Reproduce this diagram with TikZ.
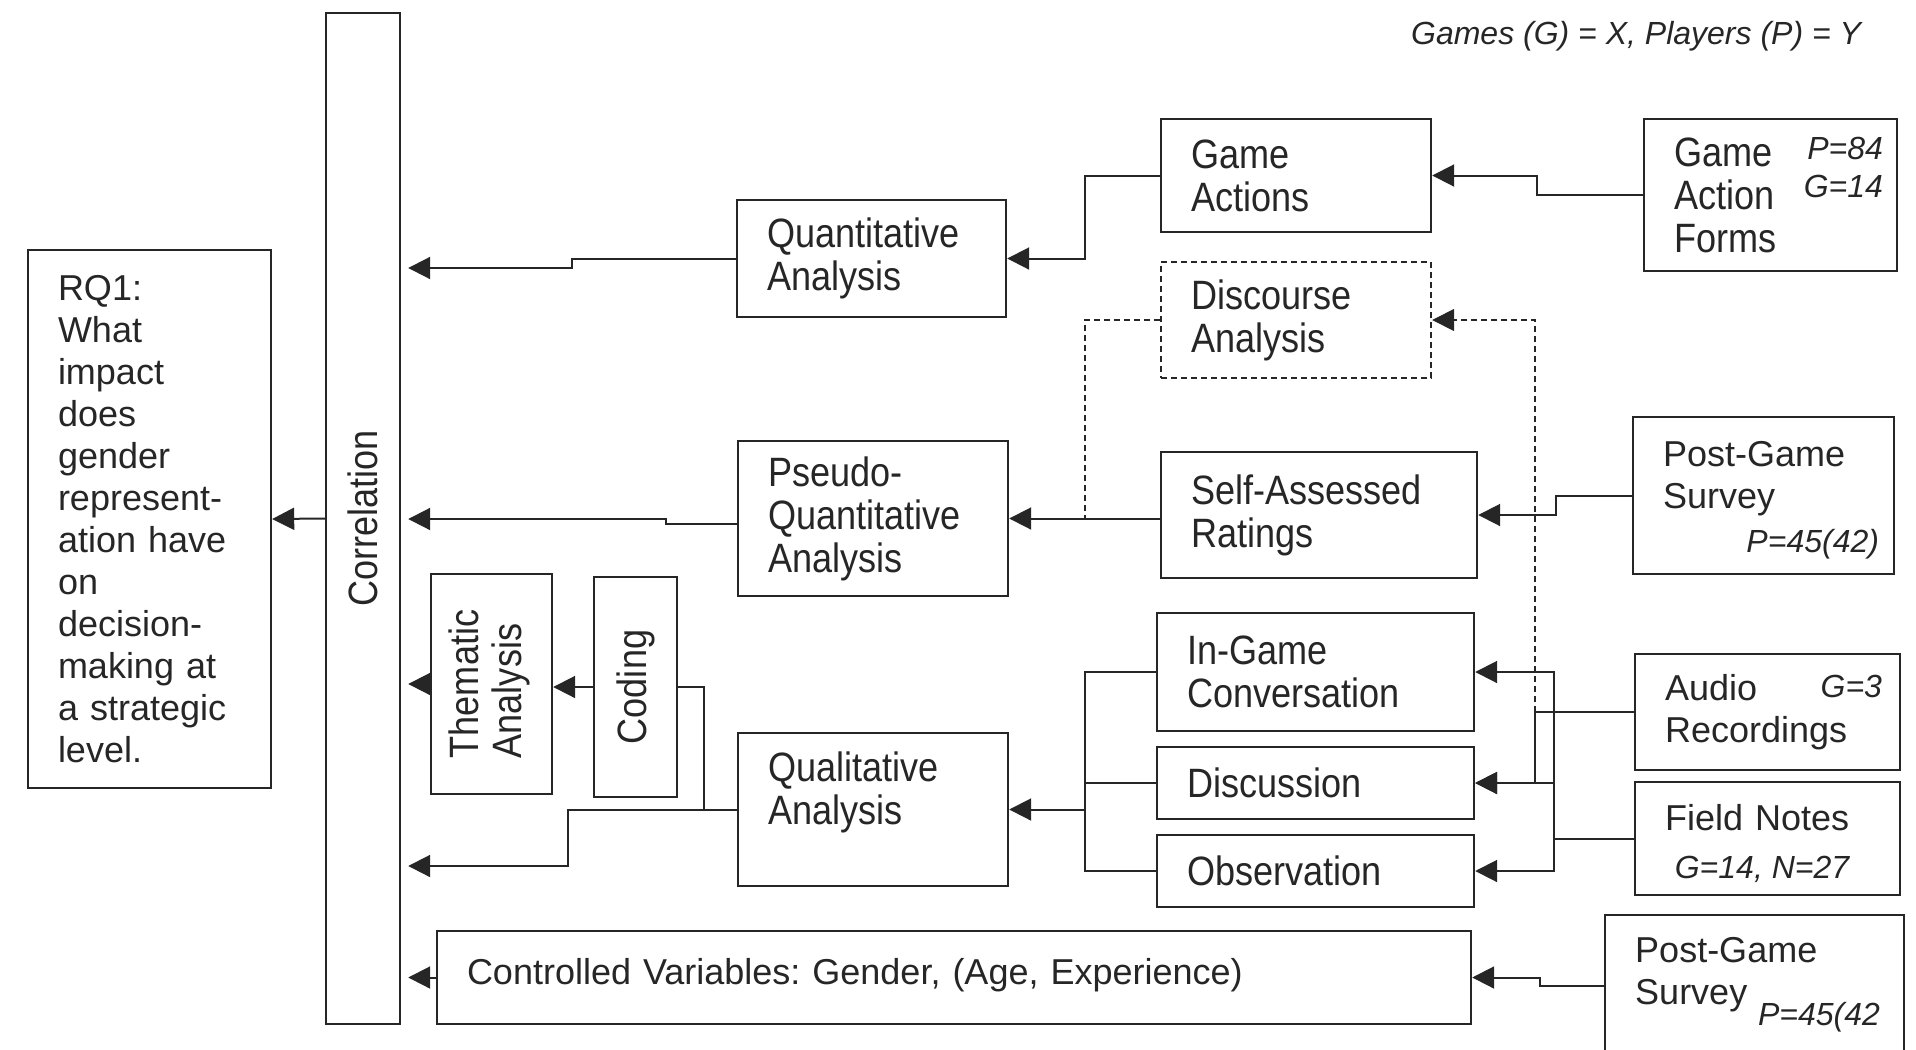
\documentclass[tikz,border=0pt]{standalone}
\usepackage{fontspec}
\setmainfont{Liberation Sans}
\newfontfamily\tallfont[FakeStretch=0.88]{Liberation Sans}
\usepackage{graphicx}
\usetikzlibrary{arrows.meta}

\newcommand\plainsize{\fontsize{18}{21}\selectfont}
\newcommand\tallsize{\tallfont\fontsize{20.5}{21.5}\selectfont}
\newcommand\notesize{\fontsize{16}{19}\selectfont\itshape}
\frenchspacing

\begin{document}
\begin{tikzpicture}[x=0.5pt,y=-0.5pt,color=black!85,line width=1pt,
    >={Triangle[length=11pt,width=11pt]},
    box/.style={draw,rectangle,line width=1.2pt,inner xsep=15pt,inner ysep=0pt,align=left,font=\tallsize},
    plainbox/.style={box,font=\plainsize},
    vbox/.style={draw,rectangle,line width=1.2pt,inner sep=0pt,font=\tallsize},
    lbl/.style={inner sep=0pt,font=\notesize},
    tocorr/.style={->,shorten >=3.5pt},
    dashline/.style={dash pattern=on 3pt off 2pt,line width=0.8pt}]
  \useasboundingbox (0,0) rectangle (1916,1049);
  \clip (0,0) rectangle (1916,1049);
  % left side
  \node[plainbox,text width=91.5pt,minimum height=269pt] (rq) at (149.5,519) {RQ1:\\What\\impact\\does\\gender\\represent-\\ation have\\on\\decision-\\making at\\a strategic\\level.};
  \node[vbox,minimum width=37pt,minimum height=505.5pt] (corr) at (363,518.5) {\rotatebox{90}{Correlation}};
  \node[vbox,minimum width=60.5pt,minimum height=110pt] (them) at (491.5,684) {\rotatebox{90}{\begin{tabular}{@{}l@{}}Thematic\\Analysis\end{tabular}}};
  \node[vbox,minimum width=41.5pt,minimum height=110pt] (cod) at (635.5,687) {\rotatebox{90}{Coding}};
  % analysis boxes
  \node[box,text width=104.5pt,minimum height=58.5pt] (quant) at (871.5,258.5) {Quantitative\\Analysis};
  \node[box,text width=105pt,minimum height=77.5pt] (pseudo) at (873,518.5) {Pseudo-\\Quantitative\\Analysis};
  \node[box,text width=105pt,minimum height=76.5pt] (qual) at (873,809.5) {Qualitative\\Analysis\\\mbox{}};
  \node[plainbox,text width=487pt,minimum height=46.5pt] (ctrl) at (954,977.5) {\raisebox{6pt}{Controlled Variables: Gender, (Age, Experience)}};
  % data boxes
  \node[box,text width=105pt,minimum height=56.5pt] (gact) at (1296,175.5) {Game\\Actions};
  \node[box,dash pattern=on 3pt off 2pt,text width=105pt,minimum height=58pt] (disc) at (1296,320) {Discourse\\Analysis};
  \node[box,text width=128pt,minimum height=63pt] (self) at (1319,515) {Self-Assessed\\Ratings};
  \node[box,text width=128.5pt,minimum height=59pt] (igc) at (1315.5,672) {In-Game\\Conversation};
  \node[box,text width=128.5pt,minimum height=36pt] (dis) at (1315.5,783) {Discussion};
  \node[box,text width=128.5pt,minimum height=36pt] (obs) at (1315.5,871) {Observation};
  % sources
  \node[box,text width=96.5pt,minimum height=76pt] (gaf) at (1770.5,195) {Game\\Action\\Forms};
  \node[lbl,align=right,anchor=east] (gafn) at (1884,167) {P=84\\G=14};
  \node[plainbox,text width=100.5pt,minimum height=78.5pt] (pgs1) at (1763.5,495.5) {Post-Game\\Survey\\\mbox{}};
  \node[lbl,anchor=east] (pgs1n) at (1880,544) {P=45(42)};
  \node[plainbox,text width=102.5pt,minimum height=58pt] (aud) at (1767.5,712) {Audio\\Recordings};
  \node[lbl,anchor=east] (audn) at (1883,686) {G=3};
  \node[plainbox,text width=102.5pt,minimum height=56.5pt] (fld) at (1767.5,838.5) {Field Notes\\\mbox{}};
  \node[lbl] (fldn) at (1762,869) {G=14, N=27};
  \node[plainbox,inner ysep=11pt,text width=119.5pt,anchor=north west] (pgs2) at (1604,914) {Post-Game\\Survey\\\mbox{}\\\mbox{}};
  \node[lbl,anchor=west] (pgs2n) at (1757,1017) {P=45(42};
  \node[lbl,anchor=east] (key) at (1862,36) {Games (G) = X, Players (P) = Y};
  % into correlation
  \draw[->] (corr.west) -- (rq.east);
  \draw[tocorr] (quant.west) -| (572,268) -- (corr.east |- 0,268);
  \draw[tocorr] ([yshift=-2.5pt]pseudo.west) -| (666,519) -- (corr.east |- 0,519);
  \draw[tocorr] (them.west) -- (corr.east |- them.west);
  \draw[tocorr] (qual.west) -| (568,866) -- (corr.east |- 0,866);
  \draw[tocorr] (ctrl.west) -- (corr.east |- ctrl.west);
  \draw (qual.west -| 704,0) |- (cod.east);
  \draw[->] (cod.west) -- (cod.west -| them.east);
  % into analysis
  \draw[->] (gact.west) -- (gact.west -| 1085,0) |- (quant.east);
  \draw[->] (self.west |- pseudo.east) -- (pseudo.east);
  \draw[dashline] (disc.west) -- (disc.west -| 1085,0) |- (pseudo.east);
  \draw (igc.west) -- (igc.west -| 1085,0) |- (obs.west);
  \draw (dis.west) -- (dis.west -| 1085,0);
  \draw[->] (qual.east -| 1085,0) -- (qual.east);
  % from sources
  \draw[->] (gaf.west) -- (gaf.west -| 1537,0) |- (gact.east);
  \draw[->] (pgs1.west) -- (pgs1.west -| 1556,0) |- (self.east);
  \coordinate (aj) at (aud.west -| 1535,0);
  \draw (aud.west) -- (aj);
  \draw[->] (aj) |- (dis.east);
  \draw[->,dashline] (aj) |- (disc.east);
  \coordinate (fj) at (fld.west -| 1554,0);
  \draw (fld.west) -- (fj);
  \draw[->] (fj) |- (igc.east);
  \draw[->] (fj) |- (obs.east);
  \draw[->] (fj |- dis.east) -- (dis.east);
  \draw[->] (pgs2.west |- 0,986) -| (1540,977.5) -- (ctrl.east);
\end{tikzpicture}
\end{document}
